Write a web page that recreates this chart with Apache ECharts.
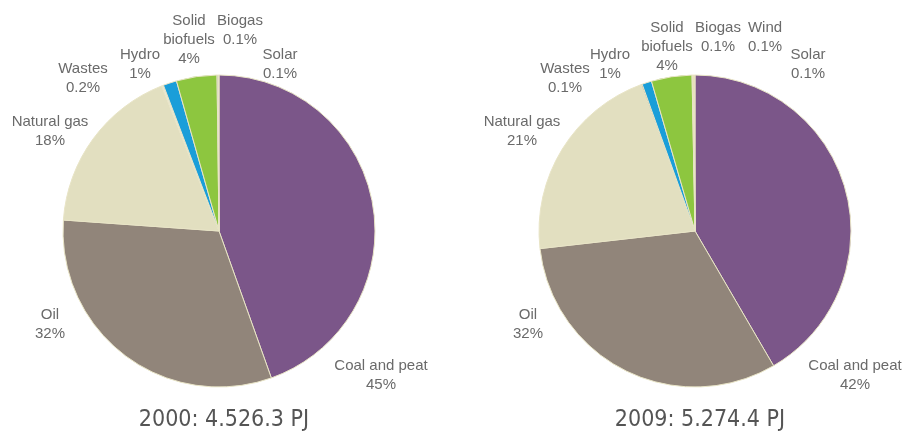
<!DOCTYPE html>
<html>
<head>
<meta charset="utf-8">
<script src="https://cdn.jsdelivr.net/npm/echarts@6/dist/echarts.min.js"></script>
<style>html,body{margin:0;padding:0;background:#fff}#c{width:902px;height:434px}</style>
</head>
<body>
<div id="c"></div>
<script>
// ---- data ----
const names2000 = ['Coal and peat', 'Oil', 'Natural gas', 'Wastes', 'Hydro', 'Solid\nbiofuels', 'Biogas', 'Solar'];
const values2000 = [44.6, 31.6, 17.9, 0.2, 1.4, 4.2, 0.1, 0.1];
const names2009 = ['Coal and peat', 'Oil', 'Natural gas', 'Wastes', 'Hydro', 'Solid\nbiofuels', 'Biogas', 'Wind', 'Solar'];
const values2009 = [41.6, 31.6, 21.2, 0.1, 1.0, 4.2, 0.1, 0.1, 0.1];
const titles = ['2000: 4.526.3 PJ', '2009: 5.274.4 PJ'];

// ---- styles ----
const colors2000 = ['#7b5689', '#91857a', '#e2dfc0', '#ece9d6', '#1a9ed9', '#8dc63f', '#646a82', '#e2dfc0'];
const colors2009 = ['#7b5689', '#91857a', '#e2dfc0', '#4d3b2a', '#1a9ed9', '#8dc63f', '#cddc8c', '#efb445', '#d9d0a8'];
// label anchor points (centre of text block), pixels
const labelPos2000 = [[381, 375], [50, 324], [50, 131], [83, 78], [140, 64], [189, 40], [240, 30], [280, 64]];
const labelPos2009 = [[855, 375], [528, 324], [522, 131], [565, 78], [610, 64], [667, 47], [718, 37], [765, 37], [808, 64]];

const FONT = '"Liberation Sans", Arial, sans-serif';
const TITLE_FONT = '"DejaVu Sans Condensed", "Liberation Sans", sans-serif';

function fmtPct(v, total) {
  const p = v / total * 100;
  return p >= 1 ? Math.round(p) + '%' : (Math.round(p * 10) / 10).toFixed(1) + '%';
}

function makeSeries(names, values, colors, pos, cx) {
  const total = values.reduce((a, b) => a + b, 0);
  return {
    type: 'pie',
    center: [cx, 231],
    radius: [0, 156],
    startAngle: 90,
    clockwise: true,
    avoidLabelOverlap: false,
    silent: true,
    itemStyle: { borderColor: '#e8e4c6', borderWidth: 1 },
    label: {
      show: true,
      position: 'outside',
      formatter: p => p.name + '\n' + fmtPct(p.value, total),
      color: '#6a6a6a',
      fontFamily: FONT,
      fontSize: 15,
      lineHeight: 19,
      align: 'center'
    },
    labelLine: { show: false },
    labelLayout: function (params) {
      const q = pos[params.dataIndex];
      return { x: q[0], y: q[1], align: 'center', verticalAlign: 'middle' };
    },
    data: names.map((n, i) => ({ name: n, value: values[i], itemStyle: { color: colors[i] } }))
  };
}

const chart = echarts.init(document.getElementById('c'));
chart.setOption({
  animation: false,
  title: [
    { text: titles[0], left: 219, top: 404, textAlign: 'center',
      textStyle: { fontFamily: TITLE_FONT, fontSize: 23, fontWeight: 'normal', color: '#555' } },
    { text: titles[1], left: 695, top: 404, textAlign: 'center',
      textStyle: { fontFamily: TITLE_FONT, fontSize: 23, fontWeight: 'normal', color: '#555' } }
  ],
  series: [
    makeSeries(names2000, values2000, colors2000, labelPos2000, 219),
    makeSeries(names2009, values2009, colors2009, labelPos2009, 695)
  ]
});
</script>
</body>
</html>
